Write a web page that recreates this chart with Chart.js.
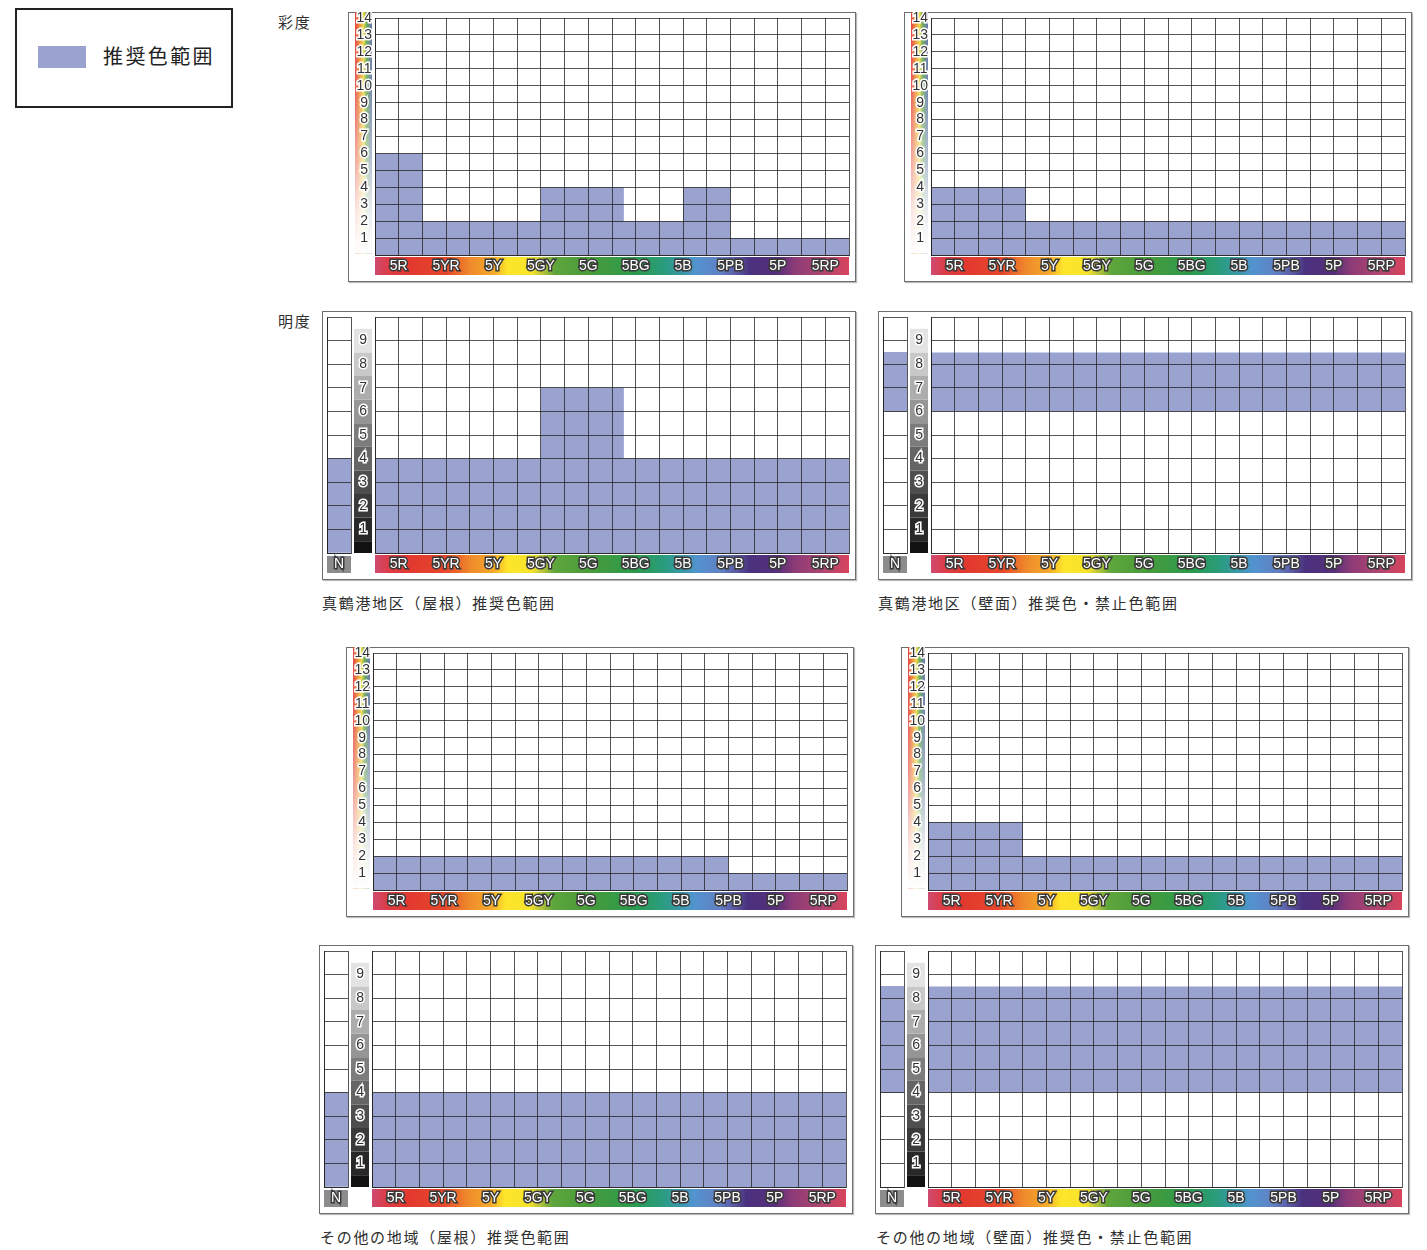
<!DOCTYPE html>
<html lang="ja">
<head>
<meta charset="utf-8">
<title>推奨色範囲</title>
<script src="https://cdn.jsdelivr.net/npm/chart.js@4.4.1/dist/chart.umd.min.js"></script>
<style>
  body { margin: 0; background: #fff; font-family: "Noto Sans CJK JP", sans-serif; color: #333; }
  #page { position: relative; width: 1427px; height: 1250px; overflow: hidden; }
  .box { position: absolute; box-sizing: border-box; border: 1px solid #6e6e6e; box-shadow: 1px 1px 1px #bbb; }
  canvas { position: absolute; }
  .label { position: absolute; font-size: 15px; letter-spacing: 1.7px; white-space: nowrap; line-height: 16px; color: #2e2e2e; }
  #legend { position: absolute; left: 15px; top: 8px; width: 218px; height: 100px; box-sizing: border-box; border: 2px solid #222; }
  #legend .sw { position: absolute; left: 21px; top: 36px; width: 48px; height: 22px; background: #9aa2cf; }
  #legend .tx { position: absolute; left: 86px; top: 33px; font-size: 20px; letter-spacing: 2.4px; line-height: 26px; color: #222; }
</style>
</head>
<body>
<div id="page">
  <div id="legend"><div class="sw"></div><div class="tx">推奨色範囲</div></div>
  <div class="label" style="left:278px; top:14px;">彩度</div>
  <div class="label" style="left:278px; top:313px;">明度</div>
  <div class="label" style="left:322px; top:595px;">真鶴港地区（屋根）推奨色範囲</div>
  <div class="label" style="left:878px; top:595px;">真鶴港地区（壁面）推奨色・禁止色範囲</div>
  <div class="label" style="left:320px; top:1229px;">その他の地域（屋根）推奨色範囲</div>
  <div class="label" style="left:876px; top:1229px;">その他の地域（壁面）推奨色・禁止色範囲</div>
</div>
<script>
// hue families (one label every 2 grid columns) and tick labels
const hueLabels = ['5R', '5YR', '5Y', '5GY', '5G', '5BG', '5B', '5PB', '5P', '5RP'];
const chromaTicks = [1, 2, 3, 4, 5, 6, 7, 8, 9, 10, 11, 12, 13, 14];
const valueTicks = [1, 2, 3, 4, 5, 6, 7, 8, 9];

// 真鶴港地区（屋根） - step start on the hue axis and upper limit from there
const manazuruRoofChromaX = [0, 2, 7, 10.5, 13, 15, 20];
const manazuruRoofChromaMax = [6, 2, 4, 2, 4, 1, 1];
const manazuruRoofValueX = [0, 7, 10.5, 20];
const manazuruRoofValueMin = [0, 0, 0, 0];
const manazuruRoofValueMax = [4, 7, 4, 4];
const manazuruRoofN = [0, 4];

// 真鶴港地区（壁面）
const manazuruWallChromaX = [0, 4, 20];
const manazuruWallChromaMax = [4, 2, 2];
const manazuruWallValueX = [0, 20];
const manazuruWallValueMin = [6, 6];
const manazuruWallValueMax = [8.5, 8.5];
const manazuruWallN = [6, 8.5];

// その他の地域（屋根）
const otherRoofChromaX = [0, 15, 20];
const otherRoofChromaMax = [2, 1, 1];
const otherRoofValueX = [0, 20];
const otherRoofValueMin = [0, 0];
const otherRoofValueMax = [4, 4];
const otherRoofN = [0, 4];

// その他の地域（壁面）
const otherWallChromaX = [0, 4, 20];
const otherWallChromaMax = [4, 2, 2];
const otherWallValueX = [0, 20];
const otherWallValueMin = [4, 4];
const otherWallValueMax = [8.5, 8.5];
const otherWallN = [4, 8.5];

const FILL = '#9aa2cf';
const GRID = 'rgba(30,30,30,0.75)';
const HUE_FONT = { family: 'Liberation Sans', size: 14 };
const LEVEL_FONT = { family: 'Liberation Sans', size: 14 };

// colour strip under the grid (positions in hue-axis units 0..20)
const hueStops = [
  [0, '#cf4a70'], [0.6, '#dc3c46'], [1.5, '#e2392f'], [3, '#e6472b'], [4, '#ef892c'],
  [5, '#f5aa2c'], [5.6, '#fde52a'], [6.6, '#f6e42b'], [7.1, '#b5c23a'], [7.6, '#5ea63c'],
  [9, '#4a9b3a'], [11, '#2b9a4c'], [12.2, '#2a9c7e'], [13, '#3a98aa'], [13.6, '#5393cf'],
  [14.6, '#6180c3'], [15.3, '#5a56a0'], [15.8, '#4a317e'], [17, '#562f7a'], [17.7, '#8c3b77'],
  [19, '#b24670'], [20, '#d8445c']
];
const grays = ['#121212', '#282828', '#3a3a3a', '#4e4e4e', '#656565', '#7c7c7c', '#959595', '#adadad', '#c8c8c8', '#e3e3e3'];

const decor = {
  id: 'decor',
  beforeDraw(chart, args, opts) {
    const { ctx, chartArea: a } = chart;
    const y = chart.scales.y;
    ctx.save();
    if (opts.kind === 'chroma' || opts.kind === 'value') {
      const g = ctx.createLinearGradient(a.left, 0, a.right, 0);
      hueStops.forEach(([v, c]) => g.addColorStop(v / 20, c));
      ctx.fillStyle = g;
      ctx.fillRect(a.left, a.bottom + 2, a.right - a.left, 18);
    }
    if (opts.kind === 'chroma') {
      const top = y.getPixelForValue(14.4), bot = y.getPixelForValue(0.1);
      const x0 = a.left - 20, w = 17;
      const h = ctx.createLinearGradient(x0, 0, x0 + w, 0);
      h.addColorStop(0, '#e0403e');
      h.addColorStop(0.3, '#f09a3a');
      h.addColorStop(0.5, '#e8d84a');
      h.addColorStop(0.7, '#64a656');
      h.addColorStop(1, '#6672b4');
      ctx.fillStyle = h;
      ctx.fillRect(x0, top, w, bot - top);
      const f = ctx.createLinearGradient(0, top, 0, bot);
      f.addColorStop(0, 'rgba(255,255,255,0)');
      f.addColorStop(0.3, 'rgba(255,255,255,0.12)');
      f.addColorStop(0.6, 'rgba(255,255,255,0.5)');
      f.addColorStop(0.82, 'rgba(255,255,255,0.85)');
      f.addColorStop(1, 'rgba(255,255,255,1)');
      ctx.fillStyle = f;
      ctx.fillRect(x0, top, w, bot - top);
    }
    if (opts.kind === 'value') {
      const x0 = a.left - 21, w = 18;
      grays.forEach((c, i) => {
        const yt = y.getPixelForValue(Math.min(9.5, i + 0.5));
        const yb = y.getPixelForValue(Math.max(0, i - 0.5));
        ctx.fillStyle = c;
        ctx.fillRect(x0, yt, w, yb - yt);
      });
    }
    if (opts.kind === 'n') {
      ctx.fillStyle = '#8c8c8c';
      ctx.fillRect(a.left, a.bottom + 3, a.right - a.left, 17);
    }
    ctx.restore();
  }
};

function addCanvas(left, top, w, h) {
  const c = document.createElement('canvas');
  c.width = w; c.height = h;
  c.style.left = left + 'px'; c.style.top = top + 'px';
  c.style.width = w + 'px'; c.style.height = h + 'px';
  document.getElementById('page').appendChild(c);
  return c;
}

function addBox(left, top, w, h) {
  const d = document.createElement('div');
  d.className = 'box';
  d.style.cssText = `left:${left}px;top:${top}px;width:${w}px;height:${h}px;`;
  document.getElementById('page').appendChild(d);
}

function hueAxis() {
  return {
    type: 'linear', min: 0, max: 20,
    grid: { color: GRID, drawTicks: false, z: 1 },
    border: { color: GRID, z: 1 },
    ticks: {
      stepSize: 1, autoSkip: false, maxRotation: 0, minRotation: 0, padding: 3,
      font: HUE_FONT, color: '#fff', textStrokeColor: '#3a3a3a', textStrokeWidth: 3,
      callback: v => (v % 2 === 1 ? hueLabels[(v - 1) / 2] : '')
    },
    afterFit: s => { s.height = 27; s.paddingLeft = 0; s.paddingRight = 0; }
  };
}

function levelAxis(max, ticks, width, pad) {
  return {
    min: 0, max: max,
    grid: { color: GRID, drawTicks: false, z: 1 },
    border: { color: GRID, z: 1 },
    ticks: {
      stepSize: 1, autoSkip: false, padding: pad, crossAlign: 'center',
      font: LEVEL_FONT, color: '#333', textStrokeColor: '#fff', textStrokeWidth: 3,
      callback: v => (ticks.includes(v) ? String(v) : '')
    },
    afterFit: s => { s.width = width; s.paddingTop = 0; s.paddingBottom = 0; }
  };
}

const common = {
  responsive: false, animation: false, events: [],
  plugins: { legend: { display: false }, tooltip: { enabled: false } },
  elements: { point: { radius: 0 }, line: { borderWidth: 0 } }
};

function steps(xs, ys) {
  return xs.map((x, i) => ({ x: x, y: ys[i] }));
}

function chromaPanel(left, top, xs, maxes) {
  addBox(left, top, 508, 270);
  new Chart(addCanvas(left, top, 508, 270), {
    type: 'line',
    data: {
      datasets: [{
        data: steps(xs, maxes), stepped: true, fill: 'origin',
        backgroundColor: FILL, borderColor: FILL
      }]
    },
    options: Object.assign({}, common, {
      layout: { padding: { left: 7, top: 6, right: 7, bottom: 0 } },
      plugins: Object.assign({}, common.plugins, { decor: { kind: 'chroma' } }),
      scales: { x: hueAxis(), y: levelAxis(14, chromaTicks, 20, 3) }
    }),
    plugins: [decor]
  });
}

function valuePanel(left, top, xs, mins, maxes, nRange) {
  addBox(left, top, 534, 269);
  new Chart(addCanvas(left, top, 534, 269), {
    type: 'line',
    data: {
      datasets: [
        { data: steps(xs, mins), stepped: true, fill: false, borderColor: FILL },
        { data: steps(xs, maxes), stepped: true, fill: '-1', backgroundColor: FILL, borderColor: FILL }
      ]
    },
    options: Object.assign({}, common, {
      layout: { padding: { left: 31, top: 6, right: 7, bottom: 0 } },
      plugins: Object.assign({}, common.plugins, { decor: { kind: 'value' } }),
      scales: { x: hueAxis(), y: levelAxis(10, valueTicks, 22, 8) }
    }),
    plugins: [decor]
  });
  // neutral (N) column
  new Chart(addCanvas(left + 5, top, 25, 269), {
    type: 'bar',
    data: {
      labels: ['N'],
      datasets: [{ data: [nRange], backgroundColor: FILL, borderWidth: 0, barPercentage: 1, categoryPercentage: 1 }]
    },
    options: Object.assign({}, common, {
      layout: { padding: { left: 0, top: 6, right: 1, bottom: 0 } },
      plugins: Object.assign({}, common.plugins, { decor: { kind: 'n' } }),
      scales: {
        x: {
          grid: { color: GRID, drawTicks: false, z: 1 },
          border: { color: GRID, z: 1 },
          ticks: { padding: 3, font: HUE_FONT, color: '#fff', textStrokeColor: '#3a3a3a', textStrokeWidth: 3 },
          afterFit: s => { s.height = 27; s.paddingLeft = 0; s.paddingRight = 0; }
        },
        y: {
          min: 0, max: 10,
          grid: { color: GRID, drawTicks: false, z: 1 },
          border: { color: GRID, z: 1 },
          ticks: { stepSize: 1, display: false },
          afterFit: s => { s.width = 0; s.paddingTop = 0; s.paddingBottom = 0; }
        }
      }
    }),
    plugins: [decor]
  });
}

chromaPanel(348, 12, manazuruRoofChromaX, manazuruRoofChromaMax);
chromaPanel(904, 12, manazuruWallChromaX, manazuruWallChromaMax);
valuePanel(322, 311, manazuruRoofValueX, manazuruRoofValueMin, manazuruRoofValueMax, manazuruRoofN);
valuePanel(878, 311, manazuruWallValueX, manazuruWallValueMin, manazuruWallValueMax, manazuruWallN);
chromaPanel(346, 647, otherRoofChromaX, otherRoofChromaMax);
chromaPanel(901, 647, otherWallChromaX, otherWallChromaMax);
valuePanel(319, 945, otherRoofValueX, otherRoofValueMin, otherRoofValueMax, otherRoofN);
valuePanel(875, 945, otherWallValueX, otherWallValueMin, otherWallValueMax, otherWallN);
</script>
</body>
</html>
